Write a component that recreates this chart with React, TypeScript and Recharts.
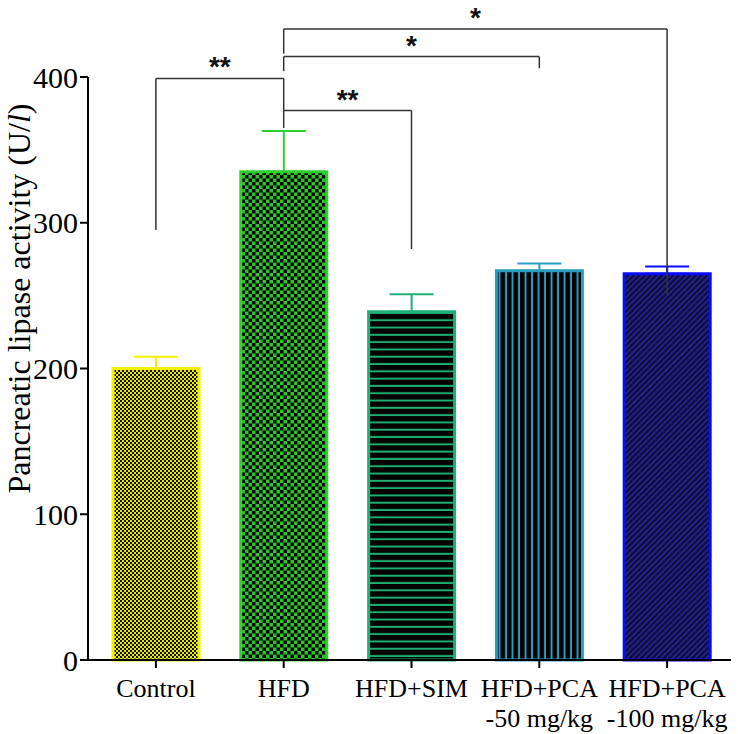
import React from 'react';
import { BarChart, Bar, XAxis, YAxis, ErrorBar, ReferenceLine } from 'recharts';

const groups = ['Control', 'HFD', 'HFD+SIM', 'HFD+PCA\n-50 mg/kg', 'HFD+PCA\n-100 mg/kg'];
const means = [200, 335, 239, 267, 265];
const errors = [8, 28, 12, 5, 5];
const yTicks = [0, 100, 200, 300, 400];

// significance brackets: between two groups, bar height, leg ends, stars
const cmpFrom = ['Control', 'HFD', 'HFD', 'HFD'];
const cmpTo = ['HFD', 'HFD+SIM', 'HFD+PCA\n-50 mg/kg', 'HFD+PCA\n-100 mg/kg'];
const cmpTop = [399, 377, 414, 433];
const cmpFromEnd = [295, 365, 404, 416];
const cmpToEnd = [377, 282, 406, 251];
const cmpStars = ['**', '**', '*', '*'];

const edge = ['#f2f200', '#2fcf2f', '#1fb07a', '#2a9cc0', '#0a0aff'];

const data = groups.map((g, i) => ({
  name: g,
  [`v${i}`]: means[i],
  [`e${i}`]: [0, errors[i]],
}));

const serif = '"Liberation Serif", "Times New Roman", serif';

function XTick({ x, y, payload }: any) {
  const lines = String(payload.value).split('\n');
  return (
    <g transform={`translate(${x},${y})`}>
      <text textAnchor="middle" fontFamily={serif} fontSize={26} fill="#000">
        {lines.map((l, i) => (
          <tspan key={i} x={0} dy={i === 0 ? 27 : 30}>{l}</tspan>
        ))}
      </text>
    </g>
  );
}

function YLabel({ viewBox }: any) {
  const bx = 30;
  const cy = viewBox.y + viewBox.height / 2 - 70;
  return (
    <text
      x={bx}
      y={cy}
      transform={`rotate(-90, ${bx}, ${cy})`}
      textAnchor="middle"
      fontFamily={serif}
      fontSize={32}
      fill="#000"
    >
      Pancreatic lipase activity (U/<tspan fontStyle="italic">l</tspan>)
    </text>
  );
}

export default function App() {
  return (
    <div style={{ position: 'absolute', left: 0, top: 0, background: '#fff' }}>
      <BarChart
        width={738}
        height={734}
        data={data}
        margin={{ top: 77, right: 7, bottom: 0, left: 0 }}
        barSize={86}
      >
        <defs>
          <pattern id="pat0" width={4} height={4} patternUnits="userSpaceOnUse">
            <rect width={4} height={4} fill="#e8e800" />
            <rect width={2} height={2} fill="#111" />
            <rect x={2} y={2} width={2} height={2} fill="#111" />
          </pattern>
          <pattern id="pat1" width={7} height={7} patternUnits="userSpaceOnUse">
            <rect width={7} height={7} fill="#2bc52b" />
            <rect width={3.5} height={3.5} fill="#050505" />
            <rect x={3.5} y={3.5} width={3.5} height={3.5} fill="#050505" />
          </pattern>
          <pattern id="pat2" width={7} height={7.3} patternUnits="userSpaceOnUse">
            <rect width={7} height={7.3} fill="#000" />
            <rect y={5.3} width={7} height={2} fill="#1fae73" />
          </pattern>
          <pattern id="pat3" width={6.5} height={7} patternUnits="userSpaceOnUse">
            <rect width={6.5} height={7} fill="#000" />
            <rect x={4.5} width={2} height={7} fill="#2a9cc0" />
          </pattern>
          <pattern id="pat4" width={4} height={4} patternUnits="userSpaceOnUse" patternTransform="rotate(45)">
            <rect width={4} height={4} fill="#0c0c3c" />
            <rect width={1.5} height={4} fill="#2a2a9a" />
          </pattern>
        </defs>
        <XAxis
          dataKey="name"
          height={74}
          padding={{ left: 4, right: 0 }}
          axisLine={{ stroke: '#000', strokeWidth: 2 }}
          tickLine={{ stroke: '#000', strokeWidth: 2 }}
          tickSize={8}
          tick={<XTick />}
          interval={0}
        />
        <YAxis
          width={88}
          domain={[0, 400]}
          ticks={yTicks}
          axisLine={{ stroke: '#000', strokeWidth: 2 }}
          tickLine={{ stroke: '#000', strokeWidth: 2 }}
          tickSize={8}
          tick={{ fontFamily: serif, fontSize: 30, fill: '#000' }}
          label={{ content: <YLabel /> }}
        />
        {groups.map((g, i) => (
          <Bar
            key={g}
            dataKey={`v${i}`}
            stackId="a"
            fill={`url(#pat${i})`}
            stroke={edge[i]}
            strokeWidth={3}
            isAnimationActive={false}
          >
            <ErrorBar dataKey={`e${i}`} direction="y" width={22} stroke={edge[i]} strokeWidth={2} />
          </Bar>
        ))}
        {cmpFrom.map((f, i) => (
          <ReferenceLine
            key={`h${i}`}
            segment={[{ x: f, y: cmpTop[i] }, { x: cmpTo[i], y: cmpTop[i] }]}
            stroke="#333"
            strokeWidth={1.5}
            ifOverflow="visible"
            label={{
              value: cmpStars[i],
              position: 'top',
              offset: 2,
              fontFamily: '"Liberation Sans", Arial, sans-serif',
              fontWeight: 'bold',
              fontSize: 28,
              fill: '#111',
            }}
          />
        ))}
        {cmpFrom.map((f, i) => (
          <ReferenceLine
            key={`l${i}`}
            segment={[{ x: f, y: cmpTop[i] }, { x: f, y: cmpFromEnd[i] }]}
            stroke="#333"
            strokeWidth={1.5}
            ifOverflow="visible"
          />
        ))}
        {cmpTo.map((t, i) => (
          <ReferenceLine
            key={`r${i}`}
            segment={[{ x: t, y: cmpTop[i] }, { x: t, y: cmpToEnd[i] }]}
            stroke="#333"
            strokeWidth={1.5}
            ifOverflow="visible"
          />
        ))}
      </BarChart>
    </div>
  );
}
